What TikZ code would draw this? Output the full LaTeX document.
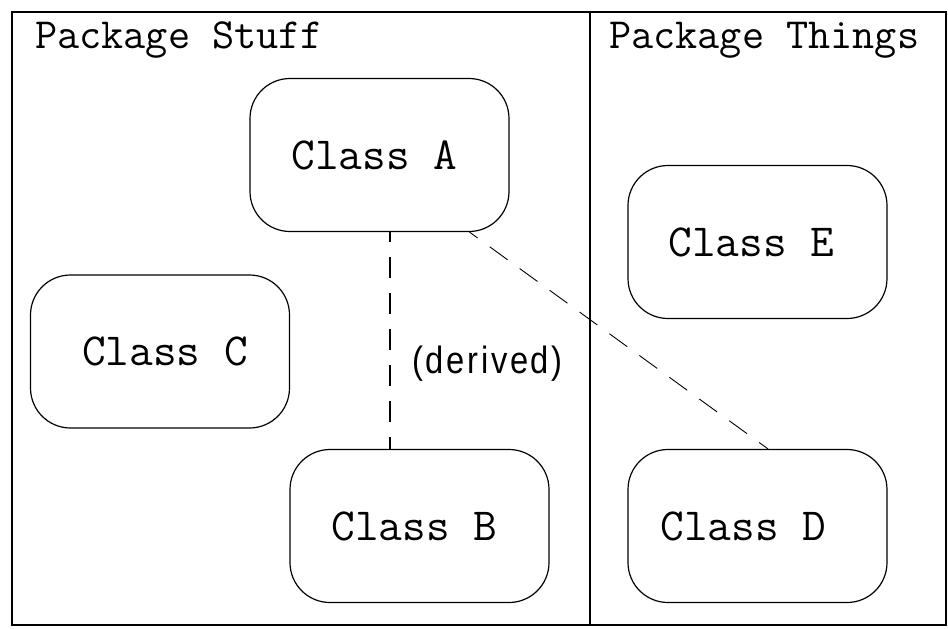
\documentclass[tikz,border=0pt]{standalone}
\usepackage{fontspec}
\newfontfamily\labelfont[FakeStretch=0.86, LetterSpace=7]{Liberation Sans}
\usetikzlibrary{calc}

\tikzset{
  frame/.style={draw=black, line width=2.2pt},
  divider/.style={draw=black, line width=1.8pt},
  classbox/.style={draw=black, line width=1.2pt, rounded corners=40pt,
    minimum width=259pt, minimum height=153pt, inner sep=0pt},
  classname/.style={inner sep=0pt, font=\ttfamily\fontsize{46}{50}\selectfont},
  pkglabel/.style={anchor=base west, inner sep=0pt,
    font=\ttfamily\fontsize{43}{48}\selectfont},
  derivedline/.style={draw=black, line width=2.2pt,
    dash pattern=on 21pt off 15pt, dash phase=11pt},
  assocline/.style={draw=black, line width=0.9pt,
    dash pattern=on 22pt off 15pt, dash phase=12pt},
  annot/.style={inner sep=0pt, font=\labelfont\fontsize{38}{42}\selectfont}
}

\begin{document}
\begin{tikzpicture}[x=1pt, y=-1pt]
  \useasboundingbox (0,0) rectangle (948,629);

  % package frames
  \coordinate (tl) at (12,12);
  \coordinate (br) at (946,625);
  \draw[frame] (tl) rectangle (br);
  \coordinate (divtop) at (590,12);
  \coordinate (divbot) at (590,625);
  \draw[divider] (divtop) -- (divbot);

  \node[pkglabel] (pkgstuff) at (35,48) {Package Stuff};
  \node[pkglabel] (pkgthings) at (609,48) {Package Things};

  % classes (box plus its name, set a little off centre)
  \node[classbox, label={[classname, xshift=-5pt]center:Class A}] (A) at (379.5,155) {};
  \node[classbox, label={[classname, xshift=-6pt]center:Class E}] (E) at (757.5,242) {};
  \node[classbox, label={[classname, xshift=5pt]center:Class C}] (C) at (160,351.5) {};
  \node[classbox, label={[classname, xshift=-5pt]center:Class B}] (B) at (419.5,526) {};
  \node[classbox, label={[classname, xshift=-14pt]center:Class D}] (D) at (757.5,526) {};

  % relations
  \draw[derivedline] ([xshift=10.5pt]A.south) -- ([xshift=10.5pt]A.south |- B.north);
  \draw[assocline] ([xshift=90pt]A.south) -- ([xshift=10.5pt]D.north);

  \node[annot] (derived) at (487.5,364) {(derived)};
\end{tikzpicture}
\end{document}
